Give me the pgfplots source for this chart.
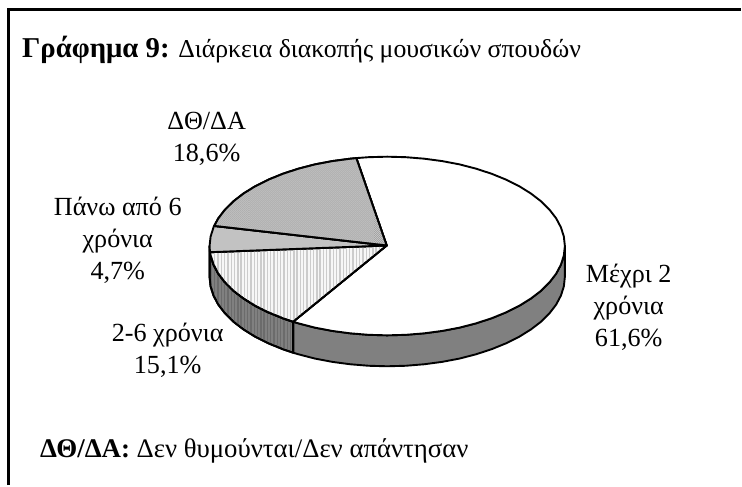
\documentclass[border=0pt]{standalone}
\usepackage{fontspec}
\setmainfont{Liberation Serif}
\usepackage{pgfplots}
\usetikzlibrary{patterns}
\pgfplotsset{compat=1.18}

% fine dither of the original: small squares and thin vertical stripes
\pgfdeclarepatternformonly{dither}{\pgfqpoint{-1pt}{-1pt}}{\pgfqpoint{3pt}{3pt}}{\pgfqpoint{2pt}{2pt}}{
  \pgfpathrectangle{\pgfqpoint{0pt}{0pt}}{\pgfqpoint{1pt}{1pt}}
  \pgfpathrectangle{\pgfqpoint{1pt}{1pt}}{\pgfqpoint{1pt}{1pt}}
  \pgfusepath{fill}}
\pgfdeclarepatternformonly{stripes}{\pgfqpoint{-1pt}{-1pt}}{\pgfqpoint{4pt}{4pt}}{\pgfqpoint{3.3pt}{3.3pt}}{
  \pgfpathrectangle{\pgfqpoint{0pt}{0pt}}{\pgfqpoint{1.4pt}{3.3pt}}
  \pgfusepath{fill}}

\tikzset{pielabel/.style={font=\fontsize{26.2}{32}\selectfont, align=center, inner sep=0pt}}

% shares in percent: 61.6 / 15.1 / 4.7 / 18.6
\begin{document}
\begin{tikzpicture}
\begin{axis}[
    width=742pt, height=486pt, scale only axis,
    xmin=0, xmax=742, ymin=0, ymax=486, y dir=reverse,
    hide axis, clip=false,
    every axis plot/.append style={line join=round, line width=1.9pt, mark=none, draw=black},
]
% keeps the page at the full size of the scan
\addplot[draw=none, line width=0pt] coordinates {(0,0)(742,486)};
% side walls
\addplot[fill=black!50] coordinates {
(566,246.5)(565.0,255.9)(562.1,265.1)(557.3,274.2)(550.6,282.9)(542.2,291.3)(532.0,299.1)(520.3,306.4)(507.1,313.0)(492.6,318.9)(477.0,324.0)(460.4,328.3)(443.0,331.6)(425.0,334.0)(406.6,335.5)(388,336)(369.4,335.5)(351.0,334.0)(333.0,331.6)(315.6,328.3)(299.0,324.0)(293.7,322.4)
(293.7,353.4)(299.0,355.0)(315.6,359.3)(333.0,362.6)(351.0,365.0)(369.4,366.5)(388,367)(406.6,366.5)(425.0,365.0)(443.0,362.6)(460.4,359.3)(477.0,355.0)(492.6,349.9)(507.1,344.0)(520.3,337.4)(532.0,330.1)(542.2,322.3)(550.6,313.9)(557.3,305.2)(562.1,296.1)(565.0,286.9)(566,277.5)
} --cycle;
\addplot[preaction={fill=black!50}, pattern=stripes, pattern color=black!58] coordinates {
(293.7,322.4)(283.4,318.9)(268.9,313.0)(255.7,306.4)(244.0,299.1)(233.8,291.3)(225.4,282.9)(218.7,274.2)(213.9,265.1)(211.0,255.9)(210.4,252.7)(210,246.5)
(210,277.5)(211.0,286.9)(213.9,296.1)(218.7,305.2)(225.4,313.9)(233.8,322.3)(244.0,330.1)(255.7,337.4)(268.9,344.0)(283.4,349.9)(293.7,353.4)
} --cycle;
% top slices
\addplot[fill=white] coordinates {
(387.5,246)(357.1,158.4)(369.4,157.5)(388,157)(406.6,157.5)(425.0,159.0)(443.0,161.4)(460.4,164.7)(477.0,169.0)(492.6,174.1)(507.1,180.0)(520.3,186.6)(532.0,193.9)(542.2,201.75)(550.6,210.1)(557.3,218.8)(562.1,227.9)(565.0,237.1)(566,246.5)
(565.0,255.9)(562.1,265.1)(557.3,274.2)(550.6,282.9)(542.2,291.3)(532.0,299.1)(520.3,306.4)(507.1,313.0)(492.6,318.9)(477.0,324.0)(460.4,328.3)(443.0,331.6)(425.0,334.0)(406.6,335.5)(388,336)(369.4,335.5)(351.0,334.0)(333.0,331.6)(315.6,328.3)(299.0,324.0)(293.7,322.4)
} --cycle;
\addplot[preaction={fill=black!3}, pattern=stripes, pattern color=black!20] coordinates {
(387.5,246)(293.7,322.4)(283.4,318.9)(268.9,313.0)(255.7,306.4)(244.0,299.1)(233.8,291.3)(225.4,282.9)(218.7,274.2)(213.9,265.1)(211.0,255.9)(210.4,252.7)
} --cycle;
\addplot[fill=black!24] coordinates {
(387.5,246)(210.4,252.7)(210,246.5)(211.0,237.1)(213.9,227.9)(214.6,226.4)
} --cycle;
\addplot[preaction={fill=black!18}, pattern=dither, pattern color=black!36] coordinates {
(387.5,246)(214.6,226.4)(218.7,218.8)(225.4,210.1)(233.8,201.75)(244.0,193.9)(255.7,186.6)(268.9,180.0)(283.4,174.1)(299.0,169.0)(315.6,164.7)(333.0,161.4)(351.0,159.0)(357.1,158.4)
} --cycle;
% frame: only top and left edges are in the scan
\addplot[line width=3pt, line join=miter] coordinates {(8.5,486)(8.5,9.5)(742,9.5)};

\node[pielabel, anchor=base west] at (axis cs:22,58) {{\fontsize{28.8}{32}\selectfont\textbf{Γράφημα 9:}} {\fontsize{25.8}{32}\selectfont Διάρκεια διακοπής μουσικών σπουδών}};
\node[pielabel, anchor=base west] at (axis cs:40,458) {{\fontsize{27}{32}\selectfont\textbf{ΔΘ/ΔΑ:}} {\fontsize{26.8}{32}\selectfont Δεν θυμούνται/Δεν απάντησαν}};
\node[pielabel] at (axis cs:207,139) {ΔΘ/ΔΑ\\18,6\%};
\node[pielabel] at (axis cs:118,241) {Πάνω από 6\\χρόνια\\4,7\%};
\node[pielabel] at (axis cs:168,351) {2-6 χρόνια\\15,1\%};
\node[pielabel] at (axis cs:630,308) {Μέχρι 2\\χρόνια\\61,6\%};
\end{axis}
\end{tikzpicture}
\end{document}
